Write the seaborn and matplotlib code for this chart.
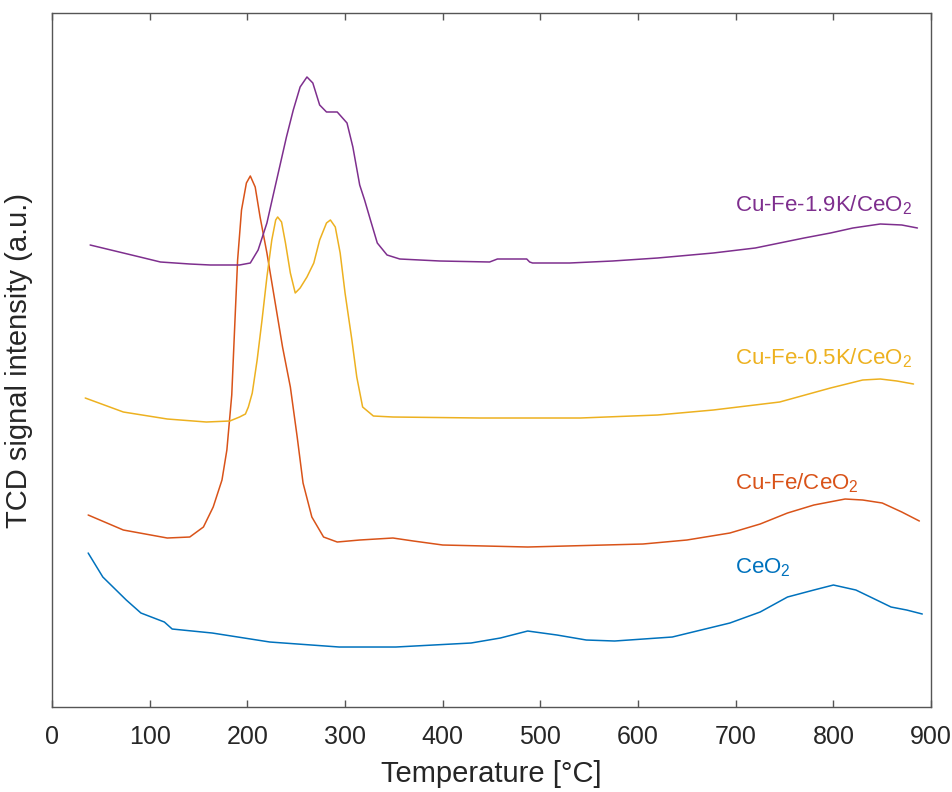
import numpy as np
import pandas as pd
import seaborn as sns
from matplotlib import pyplot as plt

sns.set_style("ticks")
plt.rcParams['font.family'] = ['Liberation Sans', 'DejaVu Sans']
plt.rcParams['mathtext.fontset'] = 'custom'
plt.rcParams['mathtext.rm'] = 'Liberation Sans'
plt.rcParams['mathtext.it'] = 'Liberation Sans'

# TPR curves (temperature in °C, intensity in a.u.)
t_k19 = [39, 90, 111, 141, 162, 192, 203, 211, 220, 226, 233, 240, 247, 254, 261, 267, 274, 281,
         292, 302, 308, 315, 320, 326, 333, 343, 356, 397, 448, 456, 486, 489, 492, 530,
         574, 620, 677, 720, 745, 770, 797, 820, 848, 870, 886]
y_k19 = [462, 450, 445, 443, 442, 442, 444, 457, 484, 510, 540, 570, 597, 620, 630, 624, 602, 595,
         595, 584, 560, 522, 507, 487, 464, 452, 448, 446, 445, 448, 448, 445, 444, 444,
         446, 449, 454, 459, 464, 469, 474, 479, 483, 482, 479]

t_k05 = [34, 73, 118, 158, 182, 192, 198, 201, 205, 210, 215, 220, 225, 229, 231, 235, 239, 244,
         249, 254, 261, 268, 274, 281, 285, 290, 295, 300, 307, 312, 318, 329, 349, 438, 541, 620,
         677, 745, 797, 830, 848, 865, 882]
y_k05 = [309, 295, 288, 285, 286, 290, 293, 300, 314, 347, 387, 430, 467, 487, 490, 485, 464, 434,
         414, 419, 430, 444, 467, 484, 487, 480, 454, 414, 367, 330, 300, 291, 290, 289, 289, 292,
         297, 305, 319, 327, 328, 326, 323]

t_cufe = [37, 73, 118, 141, 155, 165, 174, 179, 184, 187, 190, 194, 199, 203, 208, 213, 220, 228,
          236, 244, 251, 257, 266, 278, 292, 315, 349, 370, 400, 487, 605, 650, 694, 725, 753, 780,
          812, 830, 850, 870, 888]
y_cufe = [192, 177, 169, 170, 180, 200, 227, 257, 312, 380, 447, 497, 524, 531, 520, 490, 454, 407,
          360, 320, 270, 224, 190, 170, 165, 167, 169, 166, 162, 160, 163, 167, 174, 183, 194, 202,
          208, 207, 204, 195, 186]

t_ceo2 = [37, 52, 76, 91, 115, 123, 164, 223, 294, 352, 429, 459, 487, 517, 547, 576, 635, 694,
          725, 753, 780, 800, 823, 840, 859, 875, 891]
y_ceo2 = [154, 130, 107, 94, 85, 78, 74, 65, 60, 60, 64, 69, 76, 72, 67, 66, 70, 84,
          95, 110, 117, 122, 117, 109, 100, 97, 93]

names = ['CeO$_2$', 'Cu-Fe/CeO$_2$', 'Cu-Fe-0.5K/CeO$_2$', 'Cu-Fe-1.9K/CeO$_2$']
label_y = [134, 218, 343, 496]
colors = ['#0072BD', '#D95319', '#EDB120', '#7E2F8E']

curves = [(t_ceo2, y_ceo2), (t_cufe, y_cufe), (t_k05, y_k05), (t_k19, y_k19)]
df = pd.concat([pd.DataFrame({'T': t, 'I': y, 'sample': n}) for (t, y), n in zip(curves, names)])

fig = plt.figure(figsize=(9.53, 7.92), dpi=100)
ax = fig.add_axes([0.0546, 0.1073, 0.9224, 0.8763])

sns.lineplot(data=df, x='T', y='I', hue='sample', palette=dict(zip(names, colors)),
             sort=False, estimator=None, lw=1.1, legend=False, ax=ax)

for n, ly, c in zip(names, label_y, colors):
    ax.text(699, ly, n, color=c, fontsize=16, va='baseline', ha='left')

ax.set_xlim(0, 900)
ax.set_ylim(0, 694)
ax.set_xticks(range(0, 901, 100))
ax.set_yticks([])
ax.tick_params(axis='x', direction='in', top=True, length=5, width=1, color='#555555',
               labelsize=18, pad=13, labelcolor='#262626')
for s in ax.spines.values():
    s.set_visible(True)
    s.set_color('#555555')
    s.set_linewidth(1)
ax.set_xlabel('Temperature [°C]', fontsize=21, labelpad=8, color='#262626')
ax.set_ylabel('TCD signal intensity (a.u.)', fontsize=21, labelpad=14, color='#262626')

fig.savefig('out.png', dpi=100, facecolor='white')
